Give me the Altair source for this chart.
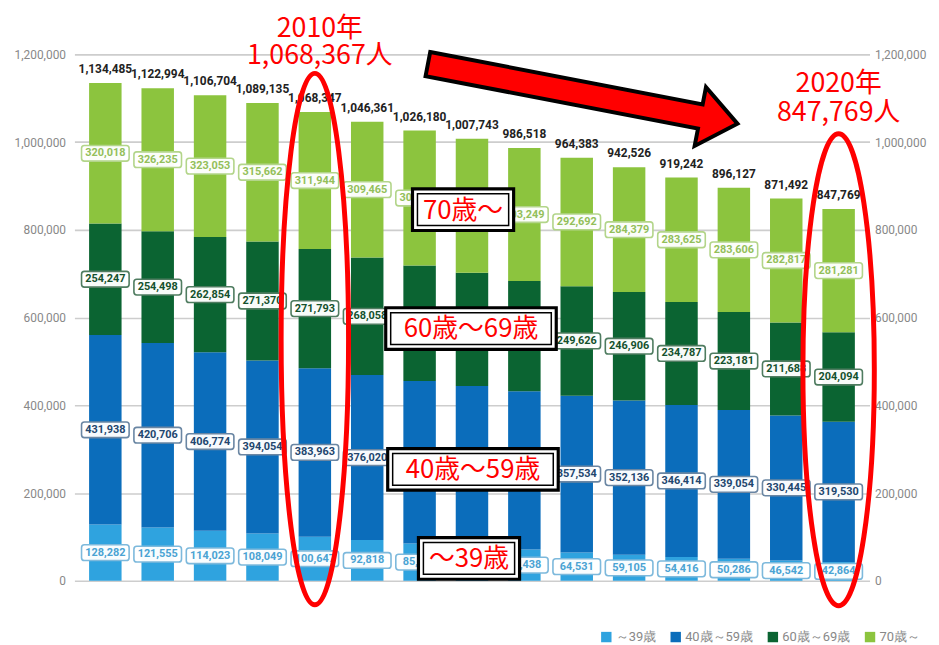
import altair as alt
import pandas as pd

years = [str(y) for y in range(2006, 2021)]
groups = ["～39歳", "40歳～59歳", "60歳～69歳", "70歳～"]
under39 = [128282, 121555, 114023, 108049, 100647, 92818, 85300, 78300, 71438,
           64531, 59105, 54416, 50286, 46542, 42864]
age40_59 = [431938, 420706, 406774, 394054, 383963, 376020, 370400, 365700, 360600,
            357534, 352136, 346414, 339054, 330445, 319530]
age60_69 = [254247, 254498, 262854, 271370, 271793, 268058, 262980, 257943, 251231,
            249626, 246906, 234787, 223181, 211688, 204094]
age70 = [320018, 326235, 323053, 315662, 311944, 309465, 307500, 305800, 303249,
         292692, 284379, 283625, 283606, 282817, 281281]
totals = [1134485, 1122994, 1106704, 1089135, 1068347, 1046361, 1026180, 1007743,
          986518, 964383, 942526, 919242, 896127, 871492, 847769]
y_ticks = [0, 200000, 400000, 600000, 800000, 1000000, 1200000]

# annotations
callout_lines = [["2010年", "1,068,367人"], ["2020年", "847,769人"]]
category_boxes = ["70歳～", "60歳～69歳", "40歳～59歳", "～39歳"]

bar_colors = ["#2fa3df", "#0b6dbb", "#0b6432", "#8cc43e"]
label_text_colors = ["#4aa3d3", "#22466e", "#14512d", "#93bf5a"]
label_border_colors = ["#7db9dc", "#6a86a3", "#4f7c60", "#b3d58a"]

FONT = "Roboto, Liberation Sans, sans-serif"
JFONT = "Noto Sans CJK JP"

rows = []
for gi, (g, vals) in enumerate(zip(groups, [under39, age40_59, age60_69, age70])):
    for y, v in zip(years, vals):
        rows.append({"year": y, "group": g, "idx": gi, "value": v})
df = pd.DataFrame(rows)
tot_df = pd.DataFrame({"year": years, "total": totals})

xscale = alt.Scale(domain=years, paddingInner=0.38, paddingOuter=0.28)
yscale = alt.Scale(domain=[0, 1200000], nice=False, zero=True)


def X(**kw):
    return alt.X("year:N", scale=xscale, **kw)


bars = alt.Chart(df).mark_bar().encode(
    x=X(axis=alt.Axis(title=None, labelAngle=0, ticks=False, domain=False,
                      labelFont=FONT, labelFontSize=13, labelFontWeight="bold",
                      labelColor="#666", labelPadding=10, grid=False)),
    y=alt.Y("value:Q", stack="zero", scale=yscale,
            axis=alt.Axis(title=None, values=y_ticks, format=",.0f", ticks=False,
                          domain=False, labelFont=FONT, labelFontSize=12,
                          labelColor="#888", labelPadding=9, grid=True,
                          gridColor="#cdcdcd", gridWidth=1.6, orient="left")),
    color=alt.Color("group:N", scale=alt.Scale(domain=groups, range=bar_colors),
                    legend=alt.Legend(orient="none", legendX=530, legendY=581,
                                      direction="horizontal", title=None,
                                      symbolType="square", symbolSize=110,
                                      symbolStrokeWidth=0,
                                      labelFont=FONT, labelFontSize=13,
                                      labelColor="#888", columnPadding=13,
                                      labelOffset=3)),
    order=alt.Order("idx:Q", sort="ascending"),
)

right_axis = alt.Chart(tot_df).mark_point(opacity=0).encode(
    x=X(axis=None),
    y=alt.Y("total:Q", scale=yscale,
            axis=alt.Axis(title=None, values=y_ticks, format=",.0f", ticks=False,
                          domain=False, labelFont=FONT, labelFontSize=12,
                          labelColor="#888", labelPadding=5, grid=False,
                          orient="right")),
)

stacked = alt.Chart(df).transform_stack(
    stack="value", groupby=["year"], sort=[alt.SortField("idx", order="ascending")],
    as_=["v0", "v1"]
).transform_calculate(mid="(datum.v0 + datum.v1) / 2")

r = 0.12
h = 0.33
pill = (f"M{-1+r},{-h} L{1-r},{-h} Q1,{-h} 1,{-h+r} L1,{h-r} Q1,{h} {1-r},{h} "
        f"L{-1+r},{h} Q-1,{h} -1,{h-r} L-1,{-h+r} Q-1,{-h} {-1+r},{-h} Z")

label_layers = []
for gi, g in enumerate(groups):
    sub = stacked.transform_filter(alt.datum.group == g)
    box = sub.mark_point(shape=pill, size=48 * 48, filled=True, fill="white",
                         fillOpacity=0.97, stroke=label_border_colors[gi],
                         strokeWidth=1.6, opacity=1).encode(
        x=X(axis=None), y=alt.Y("mid:Q", scale=yscale, axis=None))
    txt = sub.mark_text(font=FONT, fontSize=11, fontWeight="bold",
                        color=label_text_colors[gi]).encode(
        x=X(axis=None), y=alt.Y("mid:Q", scale=yscale, axis=None),
        text=alt.Text("value:Q", format=","))
    label_layers += [box, txt]

total_text = alt.Chart(tot_df).mark_text(
    font=FONT, fontSize=12, fontWeight="bold", color="#222",
    baseline="bottom", dy=-7).encode(
    x=X(axis=None), y=alt.Y("total:Q", scale=yscale, axis=None),
    text=alt.Text("total:Q", format=","))


def ellipse_path(a):
    k = 0.5523
    return (f"M0,-1 C{k*a},-1 {a},{-k} {a},0 C{a},{k} {k*a},1 0,1 "
            f"C{-k*a},1 {-a},{k} {-a},0 C{-a},{-k} {-k*a},-1 0,-1 Z")


ell_specs = [("2010", 551000, 268, 34), ("2020", 481000, 238, 36)]
ellipses = []
for yr, yv, half_h, half_w in ell_specs:
    edf = pd.DataFrame({"year": [yr], "yv": [yv]})
    ellipses.append(alt.Chart(edf).mark_point(
        shape=ellipse_path(half_w / half_h), size=(2 * half_h) ** 2,
        filled=False, stroke="#ff0000", strokeWidth=5, opacity=1).encode(
        x=X(axis=None), y=alt.Y("yv:Q", scale=yscale, axis=None)))

# callout texts
callout_rows = [
    {"year": "2010", "yv": 1258000, "t": callout_lines[0][0], "dx": 5},
    {"year": "2010", "yv": 1197000, "t": callout_lines[0][1], "dx": 5},
    {"year": "2020", "yv": 1132000, "t": callout_lines[1][0], "dx": 0},
    {"year": "2020", "yv": 1067000, "t": callout_lines[1][1], "dx": 0},
]
callouts = []
for row in callout_rows:
    cdf = pd.DataFrame([row])
    callouts.append(alt.Chart(cdf).mark_text(
        font=JFONT, fontSize=27, color="#ff0000", dx=row["dx"],
        baseline="middle").encode(
        x=X(axis=None), y=alt.Y("yv:Q", scale=yscale, axis=None), text="t:N"))

# arrow
hl, sh, hh = 0.76, 0.078, 0.19
arrow_path = (f"M-1,{-sh} L{hl},{-sh} L{hl},{-hh} L1,0 L{hl},{hh} "
              f"L{hl},{sh} L-1,{sh} Z")
arrow_df = pd.DataFrame({"year": ["2015"], "yv": [1110000]})
arrow = alt.Chart(arrow_df).mark_point(
    shape=arrow_path, size=318 ** 2, filled=True, fill="#ff0000", stroke="#000",
    strokeWidth=4, opacity=1, angle=10.9, xOffset=6).encode(
    x=X(axis=None), y=alt.Y("yv:Q", scale=yscale, axis=None))


def rect_path(w, hgt):
    hy = hgt / w
    return f"M-1,{-hy} L1,{-hy} L1,{hy} L-1,{hy} Z"


box_specs = [
    (category_boxes[0], 846000, -9, 102),
    (category_boxes[1], 575000, -1, 172),
    (category_boxes[2], 254000, 1, 172),
    (category_boxes[3], 51000, -3, 102),
]
cat_layers = []
for text, yv, xo, w in box_specs:
    bdf = pd.DataFrame({"year": ["2013"], "yv": [yv], "t": [text]})
    enc = dict(x=X(axis=None), y=alt.Y("yv:Q", scale=yscale, axis=None))
    outer = alt.Chart(bdf).mark_point(
        shape=rect_path(w, 42), size=w ** 2, filled=True, fill="white",
        stroke="#000", strokeWidth=3.2, opacity=1, xOffset=xo).encode(**enc)
    inner = alt.Chart(bdf).mark_point(
        shape=rect_path(w - 10, 32), size=(w - 10) ** 2, filled=False,
        stroke="#000", strokeWidth=1.5, opacity=1, xOffset=xo).encode(**enc)
    t = alt.Chart(bdf).mark_text(
        font=JFONT, fontSize=26, color="#ff0000", xOffset=xo,
        baseline="middle", dy=1).encode(text="t:N", **enc)
    cat_layers += [outer, inner, t]

chart = alt.layer(
    bars, right_axis, *label_layers, total_text, *ellipses, arrow, *callouts,
    *cat_layers
).resolve_axis(y="independent").properties(
    width=802, height=531,
    autosize=alt.AutoSizeParams(type="none"),
    padding={"left": 67, "top": 44, "right": 62, "bottom": 62},
    background="white",
).configure_view(stroke=None)

chart.save("out.html", embed_options={"renderer": "svg", "actions": False})
